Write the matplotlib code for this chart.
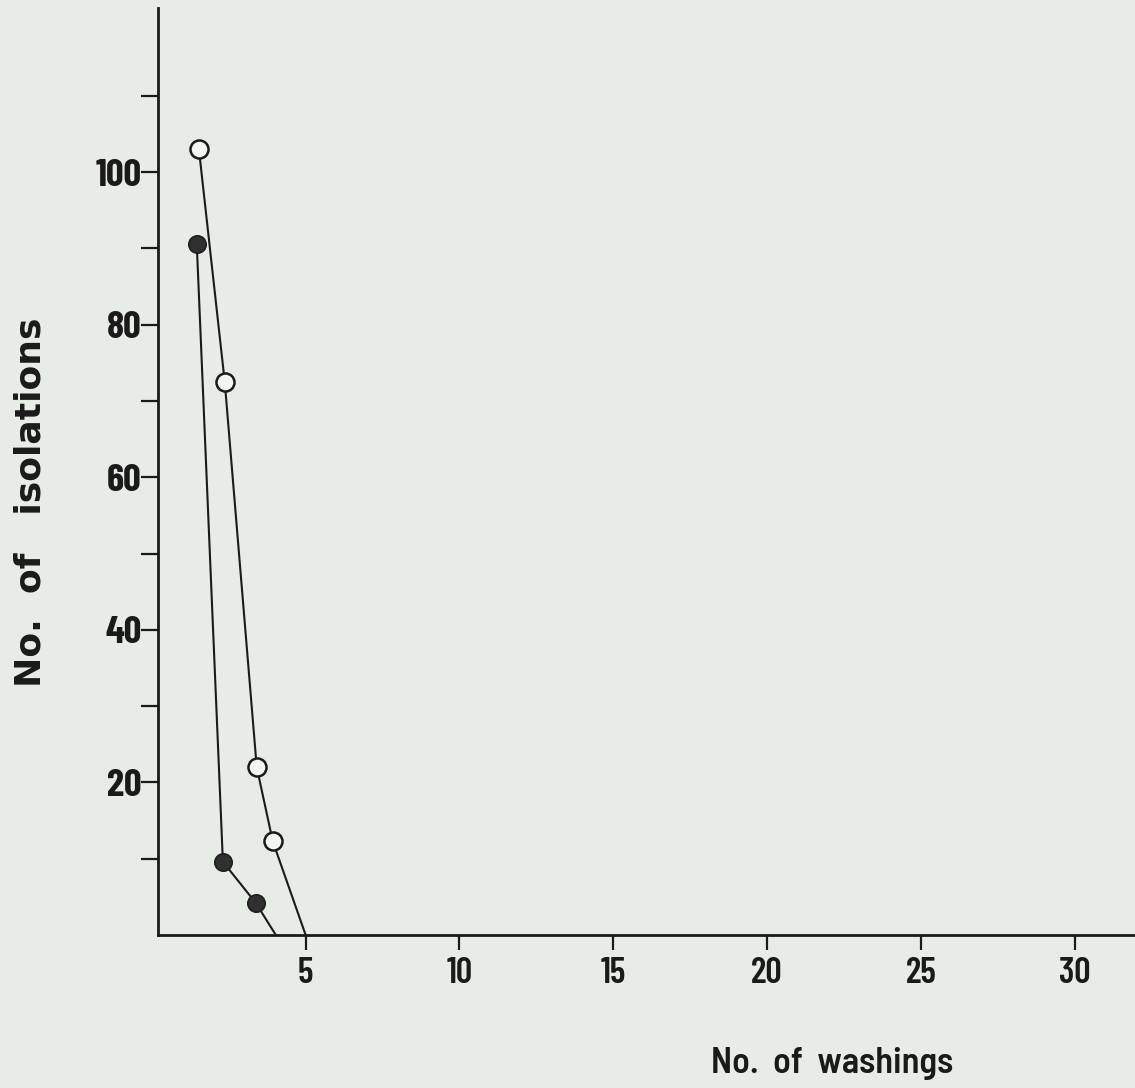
import matplotlib
matplotlib.use("Agg")
import matplotlib.pyplot as plt
from matplotlib import font_manager

# Data
open_x = [1.53, 2.37, 3.41, 3.93, 5.0]
open_y = [103, 72.5, 22, 12.3, 0]
filled_x = [1.46, 2.31, 3.38, 4.03]
filled_y = [90.6, 9.6, 4.2, 0]

x_ticks = [5, 10, 15, 20, 25, 30]
y_major = [20, 40, 60, 80, 100]
y_minor = [10, 30, 50, 70, 90, 110]

names = {f.name for f in font_manager.fontManager.ttflist}


def pick(cands):
    for c in cands:
        if c in names:
            return c
    return "DejaVu Sans"


cond = pick(["Barlow Condensed", "Roboto Condensed", "Asap Condensed", "Liberation Sans"])
semi = pick(["Barlow Semi Condensed", "Roboto Condensed", "Asap Condensed", "Liberation Sans"])

bg = "#e8ece7"
ink = "#1a1a1a"

fig = plt.figure(figsize=(11.35, 10.88), dpi=100, facecolor=bg)
ax = fig.add_axes([0.1392, 0.1406, 0.8608, 0.852], facecolor=bg)

ax.plot(open_x, open_y, color=ink, lw=1.5, marker="o", ms=13,
        mfc="#f4f6f2", mec=ink, mew=1.8, markevery=[0, 1, 2, 3], zorder=3)
ax.plot(filled_x, filled_y, color=ink, lw=1.5, marker="o", ms=12.5,
        mfc="#303030", mec="#1e1e1e", mew=1.2, markevery=[0, 1, 2], zorder=3)

ax.set_xlim(0.2, 31.96)
ax.set_ylim(0, 121.5)

for s in ["top", "right"]:
    ax.spines[s].set_visible(False)
for s in ["left", "bottom"]:
    ax.spines[s].set_linewidth(2.0)
    ax.spines[s].set_color(ink)

ax.set_xticks(x_ticks)
ax.set_xticklabels([str(v) for v in x_ticks], fontfamily=cond,
                   fontsize=26, fontweight="semibold", color=ink)
ax.set_yticks(y_major)
ax.set_yticklabels([str(v) for v in y_major], fontfamily=cond,
                   fontsize=28, fontweight="bold", color=ink)
ax.set_yticks(y_minor, minor=True)
ax.tick_params(axis="x", direction="out", length=11, width=1.6, pad=5, colors=ink)
ax.tick_params(axis="y", which="both", direction="out", length=12, width=1.6, pad=0, colors=ink)

fig.text(0.733, 0.0138, "No.  of  washings", fontfamily=semi,
         fontsize=26, fontweight="semibold", color=ink, ha="center", va="baseline")
fig.text(0.027, 0.5386, "No.  of   isolations", fontfamily="DejaVu Sans",
         fontsize=26, fontweight="bold", color=ink, ha="center", va="center", rotation=90)

fig.savefig("out.png", dpi=100, facecolor=bg)
